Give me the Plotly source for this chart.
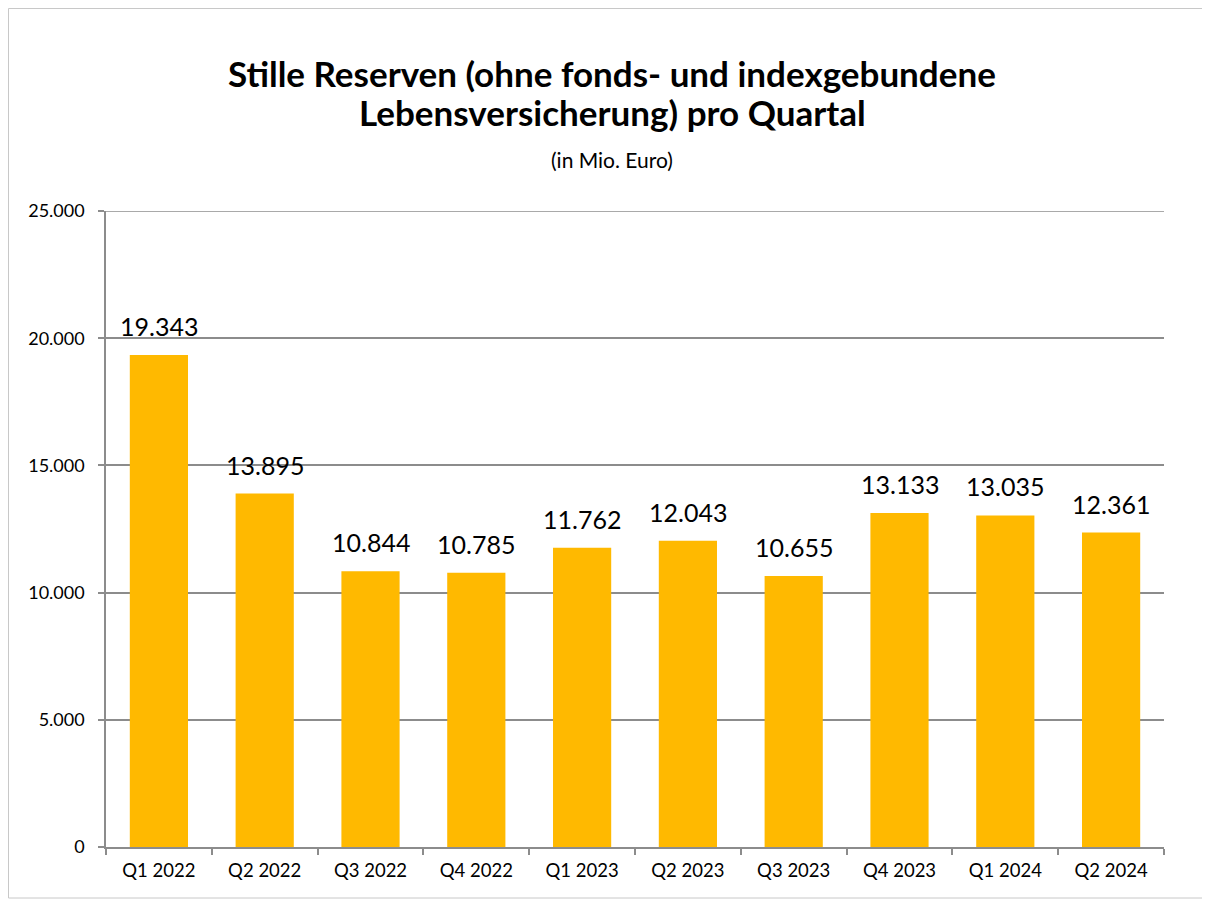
import plotly.graph_objects as go

categories = ["Q1 2022", "Q2 2022", "Q3 2022", "Q4 2022", "Q1 2023",
              "Q2 2023", "Q3 2023", "Q4 2023", "Q1 2024", "Q2 2024"]
values = [19343, 13895, 10844, 10785, 11762, 12043, 10655, 13133, 13035, 12361]
y_ticks = [0, 5000, 10000, 15000, 20000, 25000]

FONT = "Lato"
# page has an 8px body margin; figure sized to fill the rest of the window
W, H = 1202, 894
ML, MR, MT, MB = 98, 46, 203, 55
pw = W - ML - MR
ph = H - MT - MB
GRID = "#8C8C8C"

fig = go.Figure(go.Bar(
    x=categories, y=values,
    marker=dict(color="#FFB900", line=dict(width=0)),
    hoverinfo="skip",
))

for c, v in zip(categories, values):
    fig.add_annotation(
        x=c, y=v, xref="x", yref="y",
        text=f"{v:,}".replace(",", "."),
        showarrow=False, xanchor="center", yanchor="bottom", yshift=12,
        font=dict(family=FONT, size=25, color="#000000"),
    )

def fx(px):
    return (px - ML) / pw

def fy(py):
    return (H - MB - py) / ph

fig.add_shape(type="rect", xref="paper", yref="paper",
              x0=fx(0.5), x1=fx(1196), y0=fy(890), y1=fy(0.5),
              line=dict(color="#C8C8C8", width=1), layer="below")
fig.add_shape(type="line", xref="paper", yref="y",
              x0=0, x1=1, y0=25000, y1=25000,
              line=dict(color=GRID, width=1.5), layer="below")

title_lines = ["Stille Reserven (ohne fonds- und indexgebundene",
               "Lebensversicherung) pro Quartal"]
for txt, py in zip(title_lines, [65, 104]):
    fig.add_annotation(
        text=f"<b>{txt}</b>", xref="paper", yref="paper",
        x=fx(604), y=fy(py), xanchor="center", yanchor="middle",
        showarrow=False, font=dict(family=FONT, size=35, color="#000000"),
    )
fig.add_annotation(
    text="(in Mio. Euro)", xref="paper", yref="paper",
    x=fx(604), y=fy(152), xanchor="center", yanchor="middle",
    showarrow=False, font=dict(family=FONT, size=21, color="#000000"),
)

fig.update_layout(
    width=W, height=H,
    margin=dict(l=ML, r=MR, t=MT, b=MB),
    paper_bgcolor="white", plot_bgcolor="white",
    separators=",.",
    bargap=0.45,
    showlegend=False,
    xaxis=dict(
        showline=True, linecolor=GRID, linewidth=1.5,
        ticks="outside", tickson="boundaries", ticklen=6,
        tickcolor=GRID, tickwidth=1.5,
        tickfont=dict(family=FONT, size=18.5, color="#000000"),
        ticklabelstandoff=6,
        showgrid=False,
    ),
    yaxis=dict(
        range=[0, 25000], tickvals=y_ticks, tickformat=",d",
        showline=True, linecolor=GRID, linewidth=1.5,
        ticks="outside", ticklen=6, tickcolor=GRID, tickwidth=1.5,
        showgrid=True, gridcolor=GRID, gridwidth=1.5,
        tickfont=dict(family=FONT, size=18, color="#000000"),
        ticklabelstandoff=10,
        zeroline=False,
    ),
)

fig.write_html("out.html")
